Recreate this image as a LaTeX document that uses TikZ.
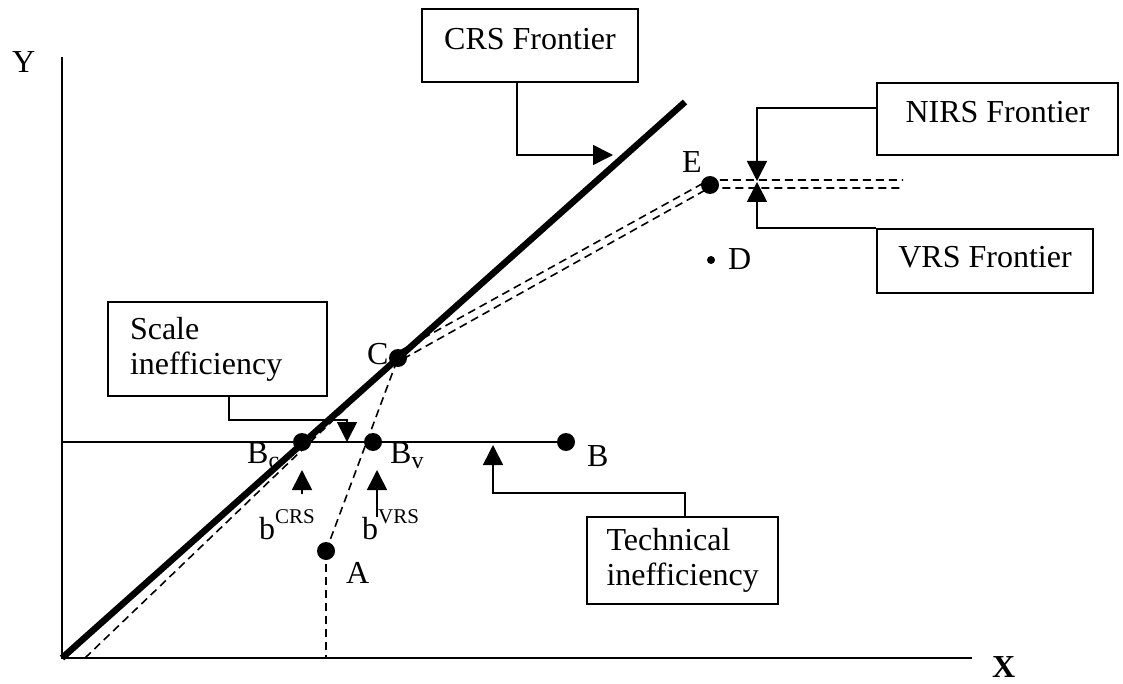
\documentclass[tikz,border=0pt]{standalone}
\usepackage{fontspec}
\setmainfont{Liberation Serif}
\usetikzlibrary{arrows.meta}
\begin{document}
\begin{tikzpicture}[x=1pt,y=-1pt, font=\fontsize{32}{35}\selectfont,
  thinline/.style={line width=1.6pt},
  dashline/.style={line width=1.6pt, dash pattern=on 8pt off 5pt},
  dot/.style={circle, fill=black, inner sep=0pt, minimum size=18pt},
  smalldot/.style={circle, fill=black, inner sep=0pt, minimum size=8pt},
  box/.style={draw, line width=1.6pt, inner sep=0pt},
  pointer/.style={line width=1.6pt, -{Triangle[length=20pt,width=20pt]}},
  lbl/.style={inner sep=0pt, anchor=base west}]
\useasboundingbox (0,0) rectangle (1123,684);

% axes
\coordinate (O) at (62,658);
\coordinate (Ytop) at (62,57);
\coordinate (Xend) at (972,658);
\draw[line width=1.8pt] (Ytop) -- (O) -- (Xend);
\node[lbl] (ylab) at (12,73) {Y};
\node[lbl] (xlab) at (992,677) {\textbf{X}};

% points
\coordinate (pA) at (326,551);
\coordinate (pB) at (566,442);
\coordinate (pC) at (398,358);
\coordinate (pE) at (710,185);
\coordinate (pD) at (711,260);
\coordinate (pBc) at (302,442);
\coordinate (pBv) at (373,442);

% CRS frontier
\coordinate (crsEnd) at (685,102);
\draw[line width=6.5pt] (O) -- (crsEnd);

% horizontal line through B
\coordinate (hY) at (62,442);
\draw[thinline] (hY) -- (pB);

% dashed frontiers
\coordinate (nirsStart) at (85,658);
\draw[dashline] (nirsStart) -- (pC);
\draw[dashline] (pA) -- (pC);
\coordinate (Abase) at (326,658);
\draw[dashline] (pA) -- (Abase);
\coordinate (c1) at (400,351);
\coordinate (c2) at (403,359);
\coordinate (e1) at (709,180);
\coordinate (e2) at (709,188);
\coordinate (h1) at (903,180);
\coordinate (h2) at (903,188);
\draw[dashline] (c1) -- (e1) -- (h1);
\draw[dashline] (c2) -- (e2) -- (h2);

% dots
\node[dot] (A) at (pA) {};
\node[dot] (B) at (pB) {};
\node[dot] (C) at (pC) {};
\node[dot] (E) at (pE) {};
\node[dot] (Bc) at (pBc) {};
\node[dot] (Bv) at (pBv) {};
\node[smalldot] (D) at (pD) {};

% point labels
\node[lbl] (Alab) at (346,583) {A};
\node[lbl] (Blab) at (587,466) {B};
\node[lbl] (Clab) at (367,364) {C};
\node[lbl] (Elab) at (682,173) {E};
\node[lbl] (Dlab) at (728,270) {D};
\node[lbl] (Bclab) at (247,463) {B\raisebox{-5pt}{\fontsize{24}{24}\selectfont c}};
\node[lbl] (Bvlab) at (390,463) {B\raisebox{-5pt}{\fontsize{24}{24}\selectfont v}};
\node[lbl] (bcrs) at (259,539) {b\raisebox{16pt}{\fontsize{21}{21}\selectfont CRS}};
\node[lbl] (bvrs) at (362,539) {b\raisebox{16pt}{\fontsize{21}{21}\selectfont VRS}};

% b arrows
\coordinate (bcTip) at (302,470);
\coordinate (bcFoot) at (302,494);
\draw[pointer] (bcFoot) -- (bcTip);
\coordinate (bvTip) at (377,470);
\coordinate (bvFoot) at (377,517);
\draw[pointer] (bvFoot) -- (bvTip);

% boxes
\node[box, minimum width=216pt, text height=41pt, text depth=32pt] (crs) at (530,45.5) {CRS Frontier};
\node[box, minimum width=241pt, text height=40pt, text depth=32pt] (nirs) at (997.5,119) {NIRS Frontier};
\node[box, minimum width=216pt, text height=39pt, text depth=25pt] (vrs) at (985,261) {VRS Frontier};
\node[box, minimum width=219pt, minimum height=94pt, text width=175pt, align=left] (scale) at (217.5,349) {Scale\\inefficiency};
\node[box, minimum width=191pt, minimum height=87pt, text width=152pt, align=left] (tech) at (682.5,560.5) {Technical\\inefficiency};

% connectors
\coordinate (crsTip) at (613,155);
\draw[pointer] ([xshift=-13pt]crs.south) |- (crsTip);
\coordinate (scaleTip) at (347,442);
\draw[pointer] ([xshift=11.5pt]scale.south) |- ([yshift=22pt]scaleTip) -- (scaleTip);
\coordinate (techTip) at (493,445);
\draw[pointer] ([xshift=2.5pt]tech.north) |- ([yshift=-48pt]techTip) -- (techTip);
\coordinate (nTip) at (757,181);
\draw[pointer] ([yshift=11pt]nirs.west) -| (nTip);
\coordinate (vTip) at (757,182);
\draw[pointer] (vrs.north west) -| (vTip);
\end{tikzpicture}
\end{document}
